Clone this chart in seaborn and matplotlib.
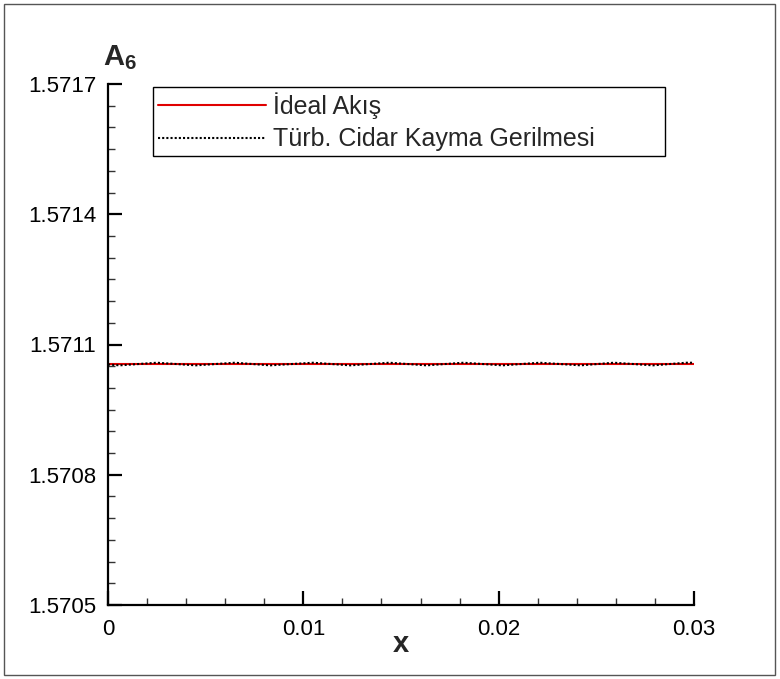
import numpy as np
import pandas as pd
import matplotlib
matplotlib.use("Agg")
import matplotlib.pyplot as plt
from matplotlib.patches import Rectangle
from matplotlib.ticker import MultipleLocator, FixedLocator
import seaborn as sns

# ---- data ----
ideal_x = [0.0, 0.03]
ideal_y = [1.571055, 1.571055]

turb_x = [0.0, 0.0006, 0.0025, 0.0045, 0.0065, 0.0083, 0.0105, 0.0124, 0.0144,
          0.0163, 0.0182, 0.0202, 0.0221, 0.0242, 0.0259, 0.0279, 0.0296, 0.0300]
turb_y = [1.571054, 1.571052, 1.571058, 1.571052, 1.571058, 1.571052, 1.571058, 1.571052, 1.571058,
          1.571052, 1.571058, 1.571052, 1.571058, 1.571052, 1.571058, 1.571052, 1.571058, 1.571058]

series_names = ["İdeal Akış", "Türb. Cidar Kayma Gerilmesi"]
x_ticks = [0, 0.01, 0.02, 0.03]
x_ticklabels = ["0", "0.01", "0.02", "0.03"]
y_ticks = [1.5705, 1.5708, 1.5711, 1.5714, 1.5717]
y_ticklabels = ["1.5705", "1.5708", "1.5711", "1.5714", "1.5717"]

df = pd.concat([
    pd.DataFrame({"x": ideal_x, "y": ideal_y, "series": series_names[0]}),
    pd.DataFrame({"x": turb_x, "y": turb_y, "series": series_names[1]}),
])

sns.set_style("ticks")
plt.rcParams["font.family"] = ["Liberation Sans", "DejaVu Sans"]
plt.rcParams["mathtext.fontset"] = "custom"
plt.rcParams["mathtext.rm"] = "Liberation Sans"
plt.rcParams["mathtext.bf"] = "Liberation Sans:bold"

fig = plt.figure(figsize=(7.8, 6.79), dpi=100)
ax = fig.add_axes([108/780, 1-605/679, (694-108)/780, (605-84)/679])

sns.lineplot(data=df, x="x", y="y", hue="series", style="series",
             palette={series_names[0]: "#e00000", series_names[1]: "black"},
             dashes={series_names[0]: "", series_names[1]: (1, 1)},
             linewidth=1.5, sort=False, estimator=None, ax=ax)

ax.set_xlim(0, 0.03)
ax.set_ylim(1.5705, 1.5717)
ax.xaxis.set_major_locator(FixedLocator(x_ticks))
ax.set_xticklabels(x_ticklabels)
ax.yaxis.set_major_locator(FixedLocator(y_ticks))
ax.set_yticklabels(y_ticklabels)
ax.xaxis.set_minor_locator(MultipleLocator(0.002))
ax.yaxis.set_minor_locator(MultipleLocator(0.00005))

for s in ["top", "right"]:
    ax.spines[s].set_visible(False)
for s in ["left", "bottom"]:
    ax.spines[s].set_linewidth(1.6)
    ax.spines[s].set_color("black")

ax.tick_params(axis="both", which="major", direction="in", length=10, width=1.6,
               labelsize=16, colors="black")
ax.tick_params(axis="both", which="minor", direction="in", length=5, width=1.0,
               color="#333333")
ax.tick_params(axis="x", which="major", pad=10)
ax.tick_params(axis="y", which="major", pad=8.5)

ax.set_xlabel("")
ax.set_ylabel("")
fig.text(401/780, 1-644/679, "x", ha="center", va="center", fontsize=21, fontweight="bold")
fig.text(103/780, 1-58/679, r"$\mathbf{A}_{\mathbf{6}}$", ha="left", va="center", fontsize=21)

leg_top = (605-87)/521
leg_h = 0.12
leg = ax.legend(loc="upper left",
                bbox_to_anchor=((153-108)/586, leg_top - leg_h, (665-153)/586, leg_h),
                mode="expand",
                frameon=True, fancybox=False, shadow=False, fontsize=18,
                handlelength=4.3, handletextpad=0.3, borderpad=0.2, labelspacing=0.35,
                borderaxespad=0)
leg.get_frame().set_edgecolor("black")
leg.get_frame().set_linewidth(1.0)
leg.get_frame().set_alpha(1)
leg.set_title(None)

fig.patches.append(Rectangle((4/780, 4/679), 771/780, 671/679, transform=fig.transFigure,
                             fill=False, edgecolor="#555555", linewidth=1.0))

fig.savefig("out.png", dpi=100)
